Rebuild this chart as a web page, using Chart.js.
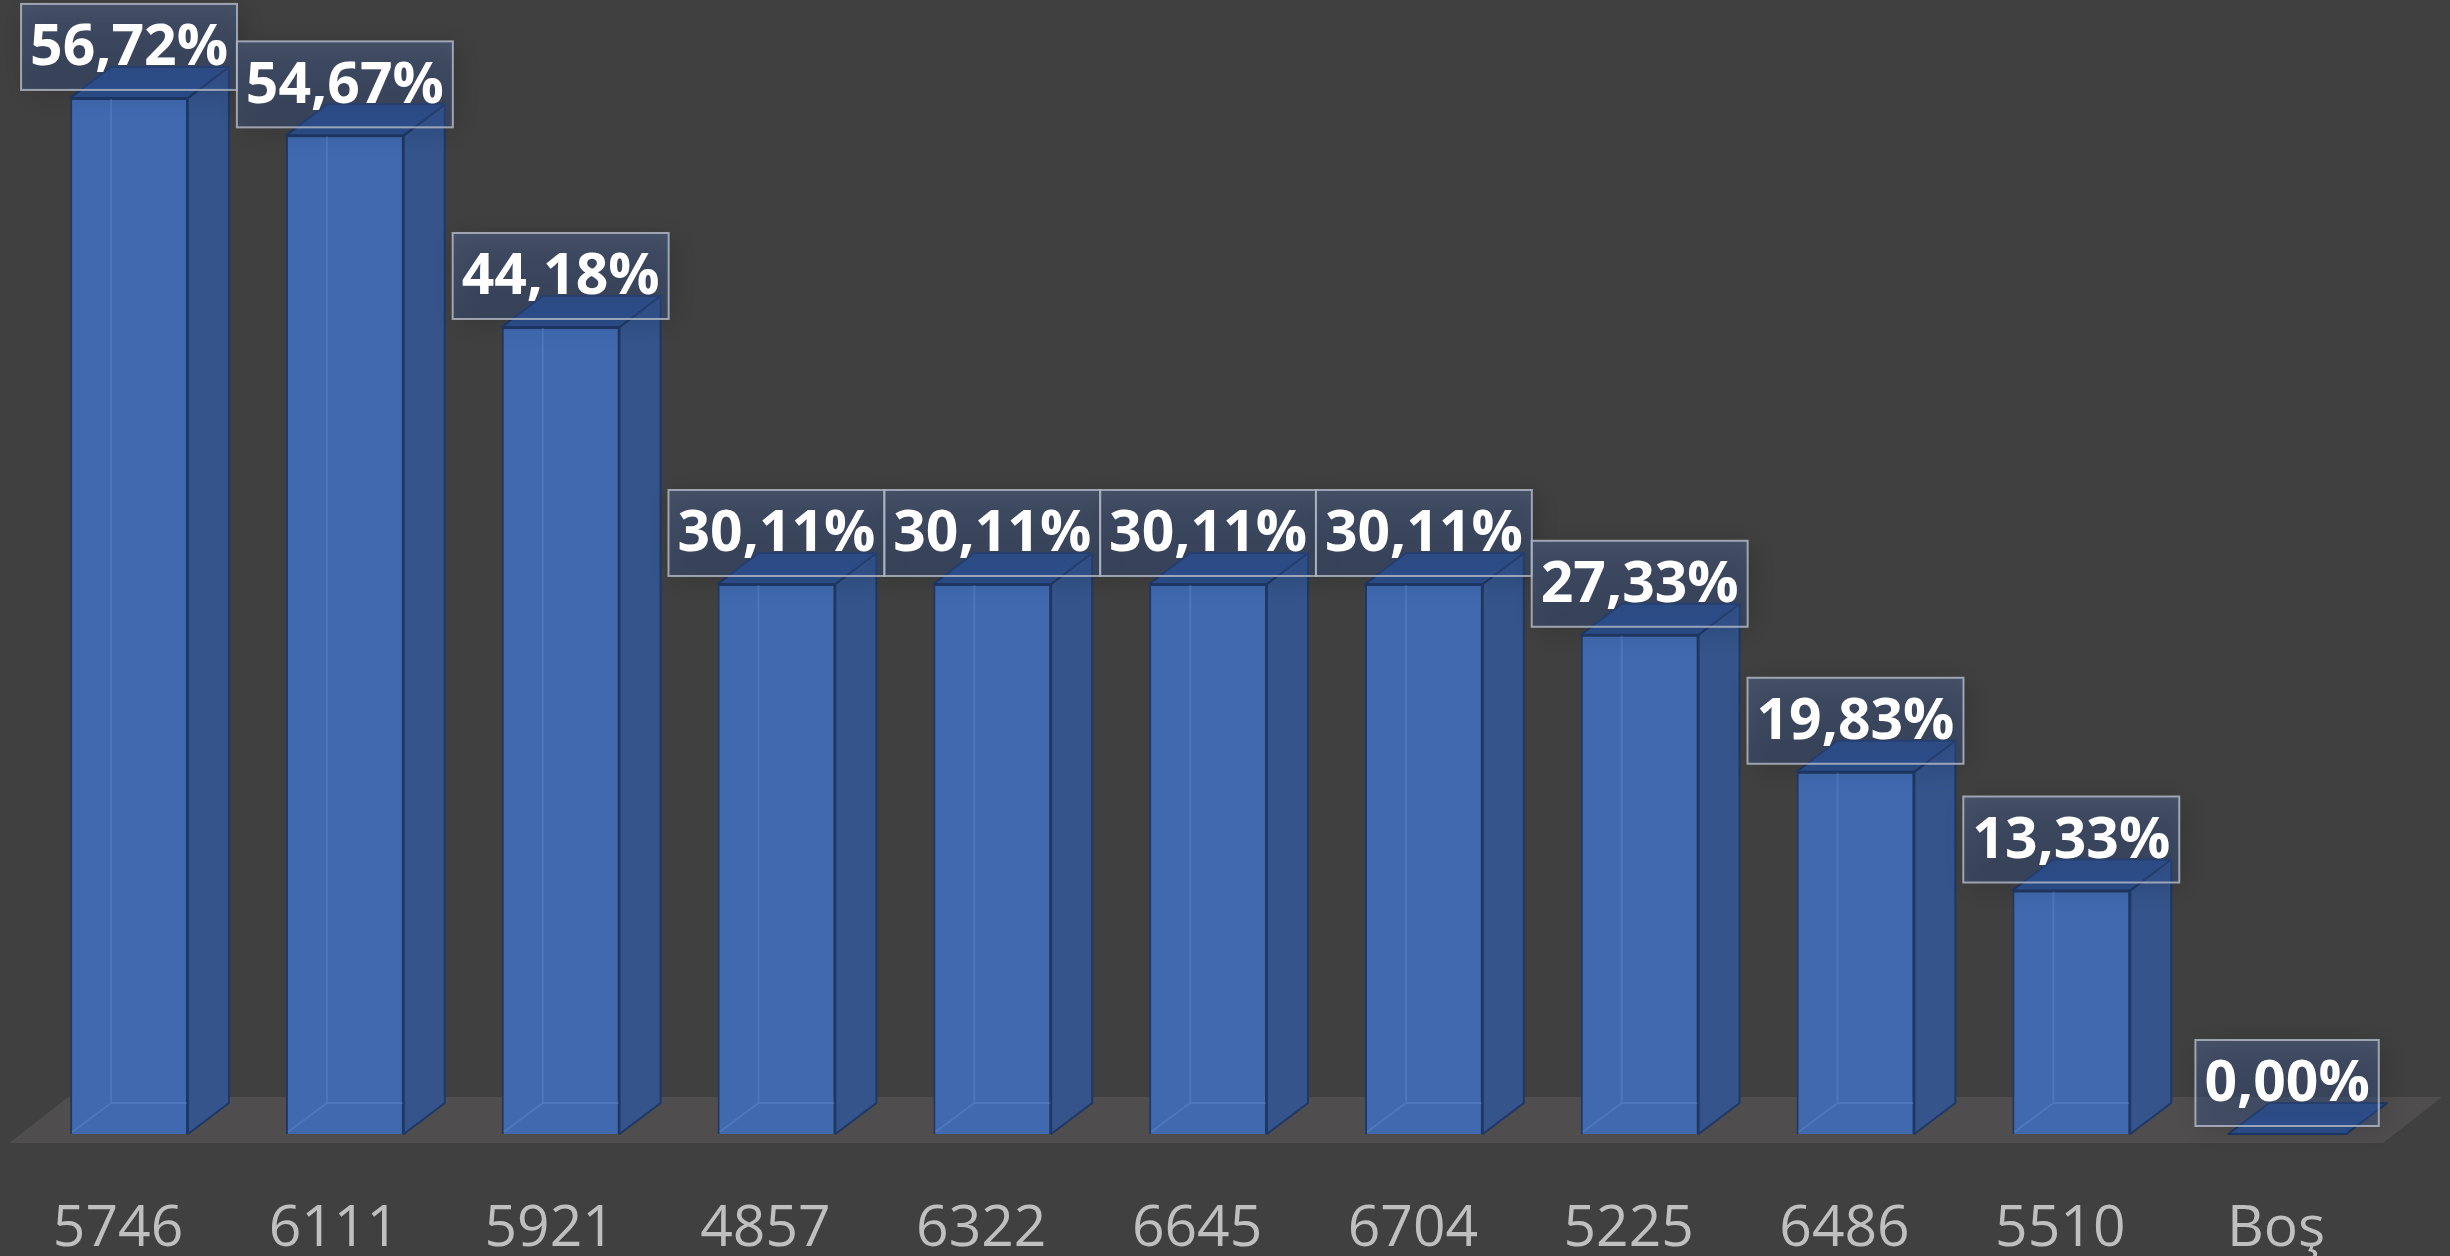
<!DOCTYPE html>
<html><head><meta charset="utf-8">
<script src="https://cdn.jsdelivr.net/npm/chart.js@4/dist/chart.umd.min.js"></script>
<style>html,body{margin:0;padding:0;background:#404040;overflow:hidden}
#wrap{position:relative;width:2450px;height:1256px}</style></head>
<body><div id="wrap"><canvas id="c"></canvas></div>
<script>
const categories = ['5746','6111','5921','4857','6322','6645','6704','5225','6486','5510','Boş'];
const values = [56.72, 54.67, 44.18, 30.11, 30.11, 30.11, 30.11, 27.33, 19.83, 13.33, 0.00];
const yMin = 0, yMax = 60;

const DX = 41, DY = 31;
const fmt = v => v.toFixed(2).replace('.', ',') + '%';

const bgPlugin = {id:'bg', beforeDraw(chart){
  const c = chart.ctx; c.save(); c.fillStyle = '#404040'; c.fillRect(0,0,chart.width,chart.height); c.restore();
}};

const floorPlugin = {id:'floor', beforeDatasetsDraw(chart){
  const {ctx, chartArea:{left,right}} = chart;
  const B = chart.scales.y.getPixelForValue(0);
  ctx.save();
  ctx.fillStyle = '#4f4d4d';
  ctx.beginPath();
  ctx.moveTo(left-12, B+9); ctx.lineTo(right-12, B+9);
  ctx.lineTo(right+47, B-37); ctx.lineTo(left+47, B-37);
  ctx.closePath(); ctx.fill();
  ctx.restore();
}};

const box3dPlugin = {id:'box3d', afterDatasetsDraw(chart){
  const ctx = chart.ctx;
  const meta = chart.getDatasetMeta(0);
  ctx.save();
  ctx.lineJoin = 'round';
  meta.data.forEach(bar => {
    const {x, y, base, width} = bar.getProps(['x','y','base','width'], true);
    const x0 = x - width/2, x1 = x + width/2;
    if (base - y > 4) {
      ctx.strokeStyle = 'rgba(110,150,215,0.3)'; ctx.lineWidth = 2;
      ctx.beginPath();
      ctx.moveTo(x0+DX, y-DY+2); ctx.lineTo(x0+DX, base-DY);
      ctx.lineTo(x1, base-DY);
      ctx.moveTo(x0+2, base-2); ctx.lineTo(x0+DX, base-DY);
      ctx.stroke();
    }
    ctx.fillStyle = '#34548b';
    ctx.strokeStyle = '#1f3866'; ctx.lineWidth = 2;
    ctx.beginPath();
    ctx.moveTo(x1, y); ctx.lineTo(x1+DX, y-DY); ctx.lineTo(x1+DX, base-DY); ctx.lineTo(x1, base);
    ctx.closePath(); ctx.fill(); ctx.stroke();
    ctx.fillStyle = '#2c4f8d';
    ctx.beginPath();
    ctx.moveTo(x0, y); ctx.lineTo(x1, y); ctx.lineTo(x1+DX, y-DY); ctx.lineTo(x0+DX, y-DY);
    ctx.closePath(); ctx.fill(); ctx.stroke();
  });
  ctx.restore();
}};

const labelPlugin = {id:'vlabels', afterDatasetsDraw(chart){
  const ctx = chart.ctx;
  const meta = chart.getDatasetMeta(0);
  ctx.save();
  ctx.font = 'bold 57px "Open Sans"';
  ctx.textAlign = 'center'; ctx.textBaseline = 'middle';
  meta.data.forEach((bar, i) => {
    const {x, y} = bar.getProps(['x','y'], true);
    const txt = fmt(values[i]);
    const w = ctx.measureText(txt).width + 18, h = 86;
    const bx = x - w/2, by = y - 8 - h;
    ctx.save();
    ctx.shadowColor = 'rgba(0,0,0,0.45)'; ctx.shadowBlur = 24; ctx.shadowOffsetX = 5; ctx.shadowOffsetY = 5;
    const g = ctx.createLinearGradient(0, by, 0, by + h);
    g.addColorStop(0, 'rgba(80,105,155,0.45)');
    g.addColorStop(1, 'rgba(52,88,160,0.30)');
    ctx.fillStyle = g;
    ctx.fillRect(bx, by, w, h);
    ctx.restore();
    ctx.strokeStyle = 'rgba(175,182,195,0.85)'; ctx.lineWidth = 2;
    ctx.strokeRect(bx, by, w, h);
    ctx.fillStyle = '#ffffff';
    ctx.fillText(txt, x, by + h/2 + 2);
  });
  ctx.restore();
}};

new Chart(document.getElementById('c'), {
  type: 'bar',
  data: {
    labels: categories,
    datasets: [{
      data: values,
      backgroundColor: '#4069b0',
      borderColor: '#1f3866',
      borderWidth: 2,
      barPercentage: 0.546,
      categoryPercentage: 1
    }]
  },
  options: {
    responsive: true, maintainAspectRatio: false, animation: false,
    layout: {padding: {left: 19, right: 55, top: 38, bottom: 0}},
    plugins: {legend: {display: false}, tooltip: {enabled: false}},
    scales: {
      x: {
        grid: {display: false, drawTicks: false},
        border: {display: false},
        ticks: {color: '#bfbfbf', font: {family: '"Open Sans"', size: 57, lineHeight: 1.15}, padding: 63, labelOffset: -11, maxRotation: 0, autoSkip: false},
        afterFit: (scale) => { scale.height = 122; }
      },
      y: {display: false, min: yMin, max: yMax}
    }
  },
  plugins: [bgPlugin, floorPlugin, box3dPlugin, labelPlugin]
});
</script>
</body></html>
